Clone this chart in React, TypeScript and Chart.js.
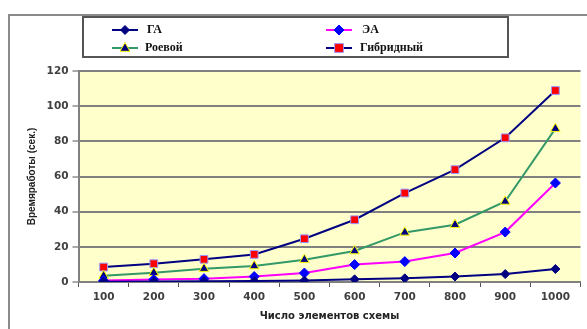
import React, { useEffect, useRef } from "react";
import { Chart, registerables } from "chart.js";

Chart.register(...registerables);

const categories = ["100", "200", "300", "400", "500", "600", "700", "800", "900", "1000"];
const gaValues = [0.2, 0.3, 0.4, 0.6, 0.8, 1.5, 2.1, 3.1, 4.5, 7.4];
const eaValues = [0.8, 1.4, 1.9, 3.1, 5.1, 9.9, 11.6, 16.5, 28.4, 56.3];
const swarmValues = [3.5, 5.3, 7.6, 9.1, 12.7, 17.6, 28.2, 32.6, 45.8, 87.2];
const hybridValues = [8.5, 10.4, 12.9, 15.7, 24.6, 35.4, 50.6, 63.9, 82.0, 108.9];
const yTicks = [0, 20, 40, 60, 80, 100, 120];

const seriesNames = ["ГА", "ЭА", "Роевой", "Гибридный"];
const yTitle = "Времяработы (сек.)";
const xTitle = "Число элементов схемы";

type MarkerStyle = { line: string; shape: string; fill: string; stroke: string; r: number };
const markers: MarkerStyle[] = [
  { line: "#000080", shape: "rectRot", fill: "#000080", stroke: "#000080", r: 4.5 },
  { line: "#FF00FF", shape: "rectRot", fill: "#0000FF", stroke: "#0000FF", r: 5 },
  { line: "#339966", shape: "triangle", fill: "#000080", stroke: "#FFFF00", r: 5.5 },
  { line: "#000080", shape: "rect", fill: "#FF0000", stroke: "#9999FF", r: 5.5 },
];

const tickFont = { family: "'DejaVu Sans', sans-serif", size: 10.5, weight: "bold" as const };

function drawMarker(ctx: CanvasRenderingContext2D, m: MarkerStyle, x: number, y: number) {
  ctx.save();
  ctx.fillStyle = m.fill;
  ctx.strokeStyle = m.stroke;
  ctx.lineWidth = 1;
  ctx.beginPath();
  const r = m.r;
  if (m.shape === "rectRot") {
    ctx.moveTo(x, y - r);
    ctx.lineTo(x + r, y);
    ctx.lineTo(x, y + r);
    ctx.lineTo(x - r, y);
  } else if (m.shape === "triangle") {
    ctx.moveTo(x, y - r);
    ctx.lineTo(x + r * 0.9, y + r * 0.6);
    ctx.lineTo(x - r * 0.9, y + r * 0.6);
  } else {
    const s = r * 0.8;
    ctx.rect(x - s, y - s, 2 * s, 2 * s);
  }
  ctx.closePath();
  ctx.fill();
  ctx.stroke();
  ctx.restore();
}

const framePlugin = {
  id: "frameAndLegend",
  beforeDraw(chart: any) {
    const { ctx, chartArea } = chart;
    ctx.save();
    ctx.fillStyle = "#ffffff";
    ctx.fillRect(0, 0, chart.width, chart.height);
    ctx.fillStyle = "#FFFFCC";
    ctx.fillRect(chartArea.left, chartArea.top, chartArea.right - chartArea.left, chartArea.bottom - chartArea.top);
    ctx.restore();
  },
  afterDraw(chart: any) {
    const { ctx } = chart;
    ctx.save();
    // outer frame
    ctx.strokeStyle = "#8a8a8a";
    ctx.lineWidth = 2;
    ctx.beginPath();
    ctx.moveTo(9, chart.height);
    ctx.lineTo(9, 15);
    ctx.lineTo(chart.width, 15);
    ctx.stroke();
    // legend box
    ctx.strokeStyle = "#555555";
    ctx.lineWidth = 2;
    ctx.strokeRect(83, 17, 425, 40);
    const slots = [
      { x: 112, y: 30, tx: 147 },
      { x: 326, y: 30, tx: 362 },
      { x: 112, y: 48, tx: 145 },
      { x: 326, y: 48, tx: 360 },
    ];
    ctx.font = "bold 12px 'Liberation Serif', serif";
    ctx.textBaseline = "middle";
    ctx.textAlign = "left";
    slots.forEach((s, i) => {
      const m = markers[i];
      ctx.strokeStyle = m.line;
      ctx.lineWidth = 2;
      ctx.beginPath();
      ctx.moveTo(s.x, s.y);
      ctx.lineTo(s.x + 26, s.y);
      ctx.stroke();
      drawMarker(ctx, m, s.x + 13, s.y);
      ctx.fillStyle = "#111111";
      ctx.fillText(seriesNames[i], s.tx, s.y);
    });
    ctx.restore();
  },
};

export default function App() {
  const canvasRef = useRef<HTMLCanvasElement | null>(null);

  useEffect(() => {
    if (!canvasRef.current) return;
    const allValues = [gaValues, eaValues, swarmValues, hybridValues];
    const chart = new Chart(canvasRef.current, {
      type: "line",
      data: {
        labels: categories,
        datasets: allValues.map((vals, i) => ({
          label: seriesNames[i],
          data: vals,
          borderColor: markers[i].line,
          borderWidth: 2,
          pointStyle: markers[i].shape as any,
          pointRadius: markers[i].r,
          pointBackgroundColor: markers[i].fill,
          pointBorderColor: markers[i].stroke,
          pointBorderWidth: 1,
          tension: 0,
          fill: false,
        })),
      },
      options: {
        responsive: false,
        animation: false,
        events: [],
        layout: { padding: { top: 71, left: 0, right: 0, bottom: 0 } },
        plugins: {
          legend: { display: false },
          tooltip: { enabled: false },
        },
        scales: {
          x: {
            type: "category",
            offset: true,
            grid: {
              display: true,
              drawOnChartArea: false,
              offset: true,
              tickLength: 5,
              color: "#555555",
              lineWidth: 1,
            },
            border: { color: "#808080", width: 2 },
            ticks: {
              color: "#404040",
              font: tickFont,
              padding: 4,
              maxRotation: 0,
            },
            title: {
              display: true,
              text: xTitle,
              color: "#222222",
              font: { family: "'DejaVu Sans', sans-serif", size: 10, weight: "bold" },
              padding: { top: 0, bottom: 7 },
            },
            afterFit(scale: any) {
              scale.height = 47;
            },
          },
          y: {
            min: 0,
            max: 120,
            afterBuildTicks(scale: any) {
              scale.ticks = yTicks.map((v) => ({ value: v }));
            },
            grid: {
              color: "#808080",
              lineWidth: 2,
              tickLength: 6,
              tickColor: "#555555",
              tickWidth: 1,
            },
            border: { color: "#808080", width: 2 },
            ticks: {
              color: "#404040",
              font: tickFont,
              padding: 4,
            },
            title: {
              display: true,
              text: yTitle,
              color: "#222222",
              font: { family: "'Liberation Sans', Arial, sans-serif", size: 10, weight: "bold" },
              padding: { top: 26, bottom: 0 },
            },
            afterFit(scale: any) {
              scale.width = 78.5;
            },
          },
        },
      },
      plugins: [framePlugin],
    });
    return () => chart.destroy();
  }, []);

  return (
    <div style={{ position: "absolute", left: 0, top: 0, width: 587, height: 329 }}>
      <canvas ref={canvasRef} width={587} height={329} />
    </div>
  );
}
